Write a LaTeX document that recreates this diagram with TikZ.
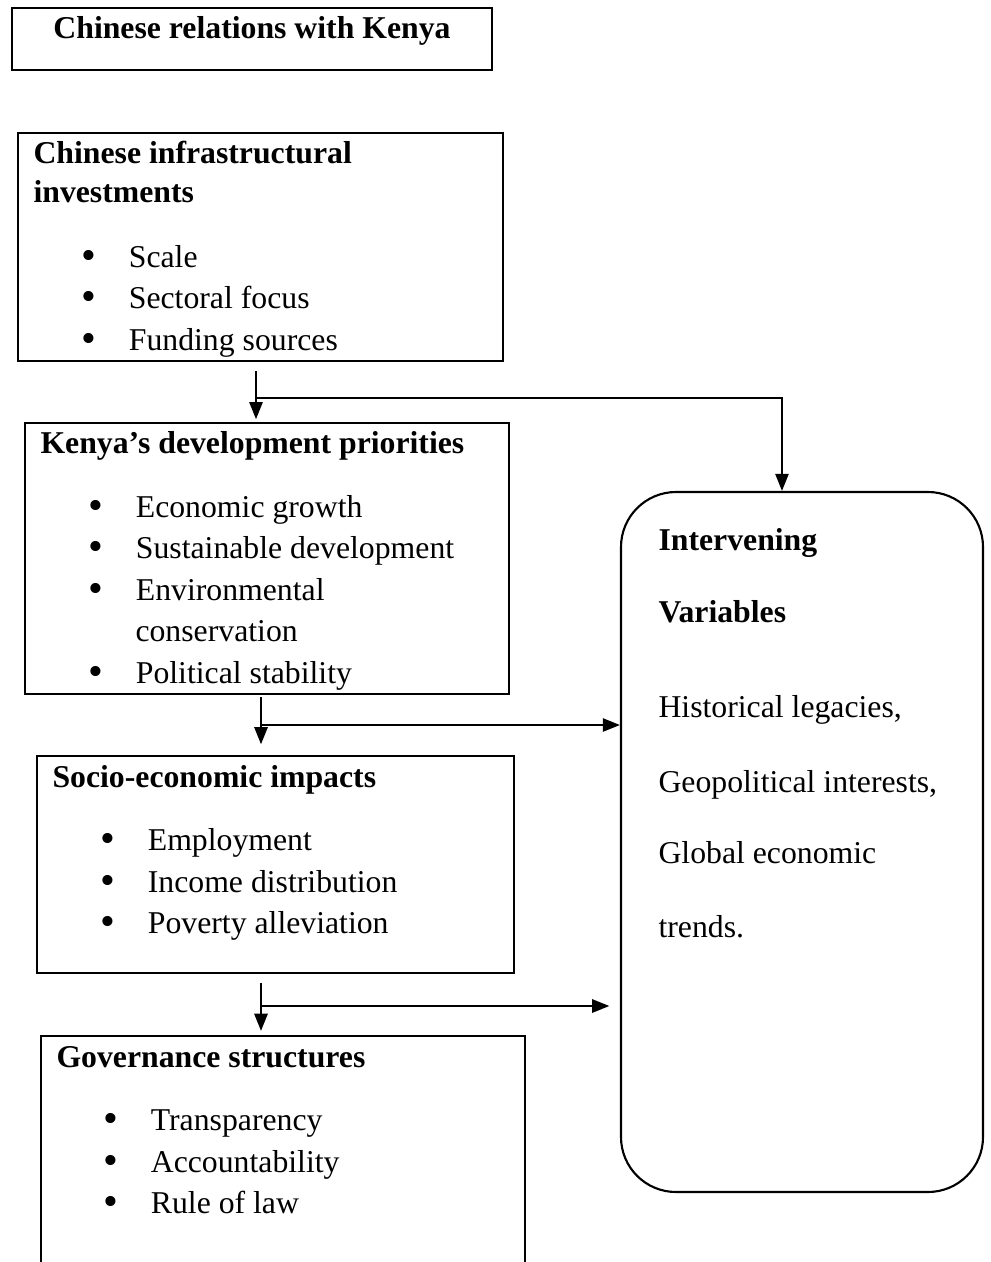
\documentclass[tikz,border=0pt]{standalone}
\usepackage{fontspec}
\setmainfont{Liberation Serif}
\usepackage{tikz}
\usetikzlibrary{arrows.meta,calc,fit}
\newcommand{\bulitem}[1]{\makebox[17.9pt][l]{\raisebox{-0.9pt}{\fontsize{16}{16}\selectfont\textbullet}}#1}
\tikzset{
  plainbox/.style={draw,line width=0.85pt,inner sep=0pt},
  roundbox/.style={draw,line width=0.8pt,inner sep=0pt,rounded corners=20.8pt},
  flowarrow/.style={->,line width=0.8pt},
  headtxt/.style={anchor=base west,inner sep=0pt,font=\fontsize{12}{14}\selectfont\bfseries},
  itemtxt/.style={anchor=base west,inner sep=0pt,font=\fontsize{12}{14}\selectfont},
}

\begin{document}
\begin{tikzpicture}[x=0.378pt,y=-0.378pt,>={Triangle[length=6.5pt,width=5pt]}]
  \clip (0,0) rectangle (991,1262);
  % boxes
  \node[plainbox,fit={(12,8) (492,70)}] (rel) {};
  \node[plainbox,fit={(18,133) (503,361)}] (infra) {};
  \node[plainbox,fit={(25,423) (509,694)}] (devp) {};
  \node[plainbox,fit={(37,756) (514,973)}] (socio) {};
  \node[plainbox,fit={(41,1036) (525,1300)}] (gov) {};
  \node[roundbox,fit={(621,492) (983,1192)}] (vars) {};
  % texts
  \node[headtxt,anchor=base] (relH) at (252,39) {Chinese relations with Kenya};
  \node[headtxt] (infraH1) at (33,163) {Chinese infrastructural};
  \node[headtxt] (infraH2) at (33,202) {investments};
  \node[itemtxt] (infraA) at (81,267) {\bulitem{Scale}};
  \node[itemtxt] (infraB) at (81,308) {\bulitem{Sectoral focus}};
  \node[itemtxt] (infraC) at (81,350) {\bulitem{Funding sources}};
  \node[headtxt] (devpH) at (40,453) {Kenya’s development priorities};
  \node[itemtxt] (devpA) at (88,517) {\bulitem{Economic growth}};
  \node[itemtxt] (devpB) at (88,558) {\bulitem{Sustainable development}};
  \node[itemtxt] (devpC) at (88,600) {\bulitem{Environmental}};
  \node[itemtxt] (devpC2) at (135,641) {conservation};
  \node[itemtxt] (devpD) at (88,683) {\bulitem{Political stability}};
  \node[headtxt] (socioH) at (52,787) {Socio-economic impacts};
  \node[itemtxt] (socioA) at (100,850) {\bulitem{Employment}};
  \node[itemtxt] (socioB) at (100,892) {\bulitem{Income distribution}};
  \node[itemtxt] (socioC) at (100,933) {\bulitem{Poverty alleviation}};
  \node[headtxt] (govH) at (56,1067) {Governance structures};
  \node[itemtxt] (govA) at (103,1130) {\bulitem{Transparency}};
  \node[itemtxt] (govB) at (103,1172) {\bulitem{Accountability}};
  \node[itemtxt] (govC) at (103,1213) {\bulitem{Rule of law}};
  \node[headtxt] (varsH1) at (658,550) {Intervening};
  \node[headtxt] (varsH2) at (658,622) {Variables};
  \node[itemtxt] (varsA) at (658,717) {Historical legacies,};
  \node[itemtxt] (varsB) at (658,792) {Geopolitical interests,};
  \node[itemtxt] (varsC) at (658,863) {Global economic};
  \node[itemtxt] (varsD) at (658,937) {trends.};
  % connectors
  \coordinate (j1s) at (256,371);
  \coordinate (j1) at (256,398);
  \draw[flowarrow,shorten >=1pt] (j1s) -- (j1s |- devp.north);
  \draw[flowarrow] (j1) -| ($(vars.north west)!0.445!(vars.north east)$);
  \coordinate (j2s) at (261,697);
  \coordinate (j2) at (261,725);
  \draw[flowarrow,shorten >=4pt] (j2s) -- (j2s |- socio.north);
  \draw[flowarrow] (j2) -- (j2 -| vars.west);
  \coordinate (j3s) at (261,983);
  \coordinate (j3) at (261,1006);
  \draw[flowarrow,shorten >=1.5pt] (j3s) -- (j3s |- gov.north);
  \draw[flowarrow,shorten >=4pt] (j3) -- (j3 -| vars.west);
\end{tikzpicture}
\end{document}
